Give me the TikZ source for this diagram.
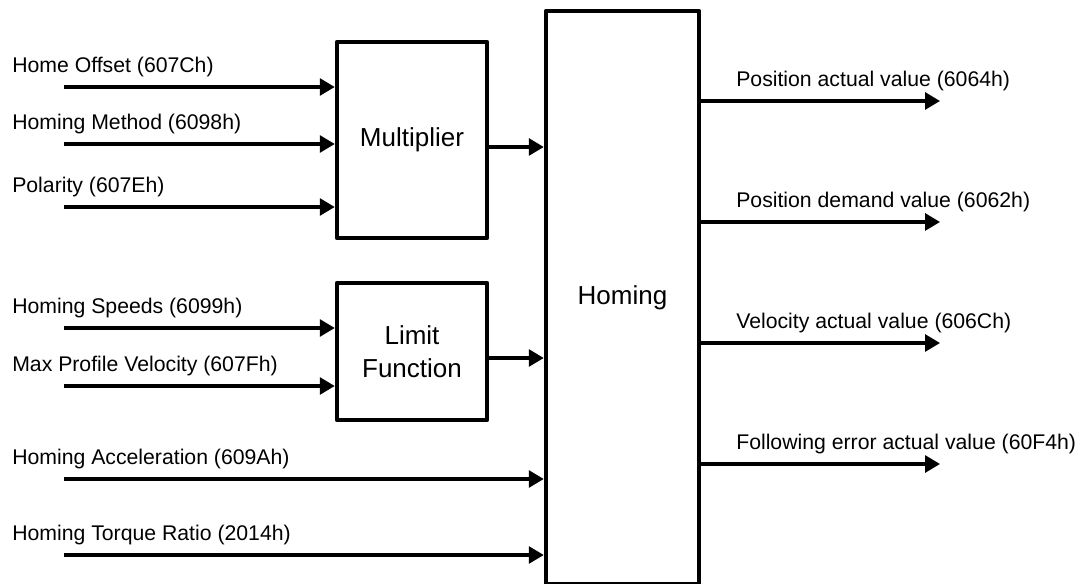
\documentclass[tikz,border=0pt]{standalone}
\usepackage{fontspec}
\setmainfont{Liberation Sans}
\usetikzlibrary{arrows.meta, positioning}

\tikzset{
    blockbox/.style={draw, line width=3.2pt, line join=round, minimum width=3.75cm, align=center, font=\fontsize{18.5}{23.5}\selectfont},
    sig/.style={line width=2.2pt, -{Triangle[length=0.375cm, width=0.425cm]}},
    sigtext/.style={anchor=base west, inner sep=0pt, font=\fontsize{15.1}{18}\selectfont}
}

\begin{document}
\begin{tikzpicture}
\useasboundingbox (0,0) rectangle (27.025,14.575);

% blocks
\node[blockbox, minimum width=3.825cm, minimum height=14.33cm] (homing) at (15.5625,7.135) {Homing};
\node[blockbox, minimum height=4.9cm] (mult) at (10.3,11.075) {Multiplier};
\node[blockbox, minimum height=3.425cm, below=1.01cm of mult] (limit) {Limit\\Function};

% inputs
\coordinate (inHomeOffset) at (1.6,12.4);
\coordinate (inMethod) at (1.6,10.975);
\coordinate (inPolarity) at (1.6,9.4);
\coordinate (inSpeeds) at (1.6,6.375);
\coordinate (inMaxVel) at (1.6,4.925);
\coordinate (inAccel) at (1.6,2.6);
\coordinate (inTorque) at (1.6,0.7);

\node[sigtext] (lblHomeOffset) at (0.3,12.76) {Home Offset (607Ch)};
\node[sigtext] (lblMethod) at (0.3,11.335) {Homing Method (6098h)};
\node[sigtext] (lblPolarity) at (0.3,9.76) {Polarity (607Eh)};
\node[sigtext] (lblSpeeds) at (0.3,6.735) {Homing Speeds (6099h)};
\node[sigtext] (lblMaxVel) at (0.3,5.285) {Max Profile Velocity (607Fh)};
\node[sigtext] (lblAccel) at (0.3,2.96) {Homing Acceleration (609Ah)};
\node[sigtext] (lblTorque) at (0.3,1.06) {Homing Torque Ratio (2014h)};

\draw[sig] (inHomeOffset) -- (mult.west |- inHomeOffset);
\draw[sig] (inMethod) -- (mult.west |- inMethod);
\draw[sig] (inPolarity) -- (mult.west |- inPolarity);
\draw[sig] (inSpeeds) -- (limit.west |- inSpeeds);
\draw[sig] (inMaxVel) -- (limit.west |- inMaxVel);
\draw[sig] (inAccel) -- (homing.west |- inAccel);
\draw[sig] (inTorque) -- (homing.west |- inTorque);

% block to block
\draw[sig] (mult.east |- 0,10.9) -- (homing.west |- 0,10.9);
\draw[sig] (limit.east |- 0,5.625) -- (homing.west |- 0,5.625);

% outputs
\coordinate (outPosAct) at (23.5,12.05);
\coordinate (outPosDem) at (23.5,9.025);
\coordinate (outVelAct) at (23.5,6.0);
\coordinate (outFollErr) at (23.5,2.975);

\node[sigtext] (lblPosAct) at (18.4,12.41) {Position actual value (6064h)};
\node[sigtext] (lblPosDem) at (18.4,9.385) {Position demand value (6062h)};
\node[sigtext] (lblVelAct) at (18.4,6.36) {Velocity actual value (606Ch)};
\node[sigtext] (lblFollErr) at (18.4,3.335) {Following error actual value (60F4h)};

\draw[sig] (homing.east |- outPosAct) -- (outPosAct);
\draw[sig] (homing.east |- outPosDem) -- (outPosDem);
\draw[sig] (homing.east |- outVelAct) -- (outVelAct);
\draw[sig] (homing.east |- outFollErr) -- (outFollErr);

\end{tikzpicture}
\end{document}
